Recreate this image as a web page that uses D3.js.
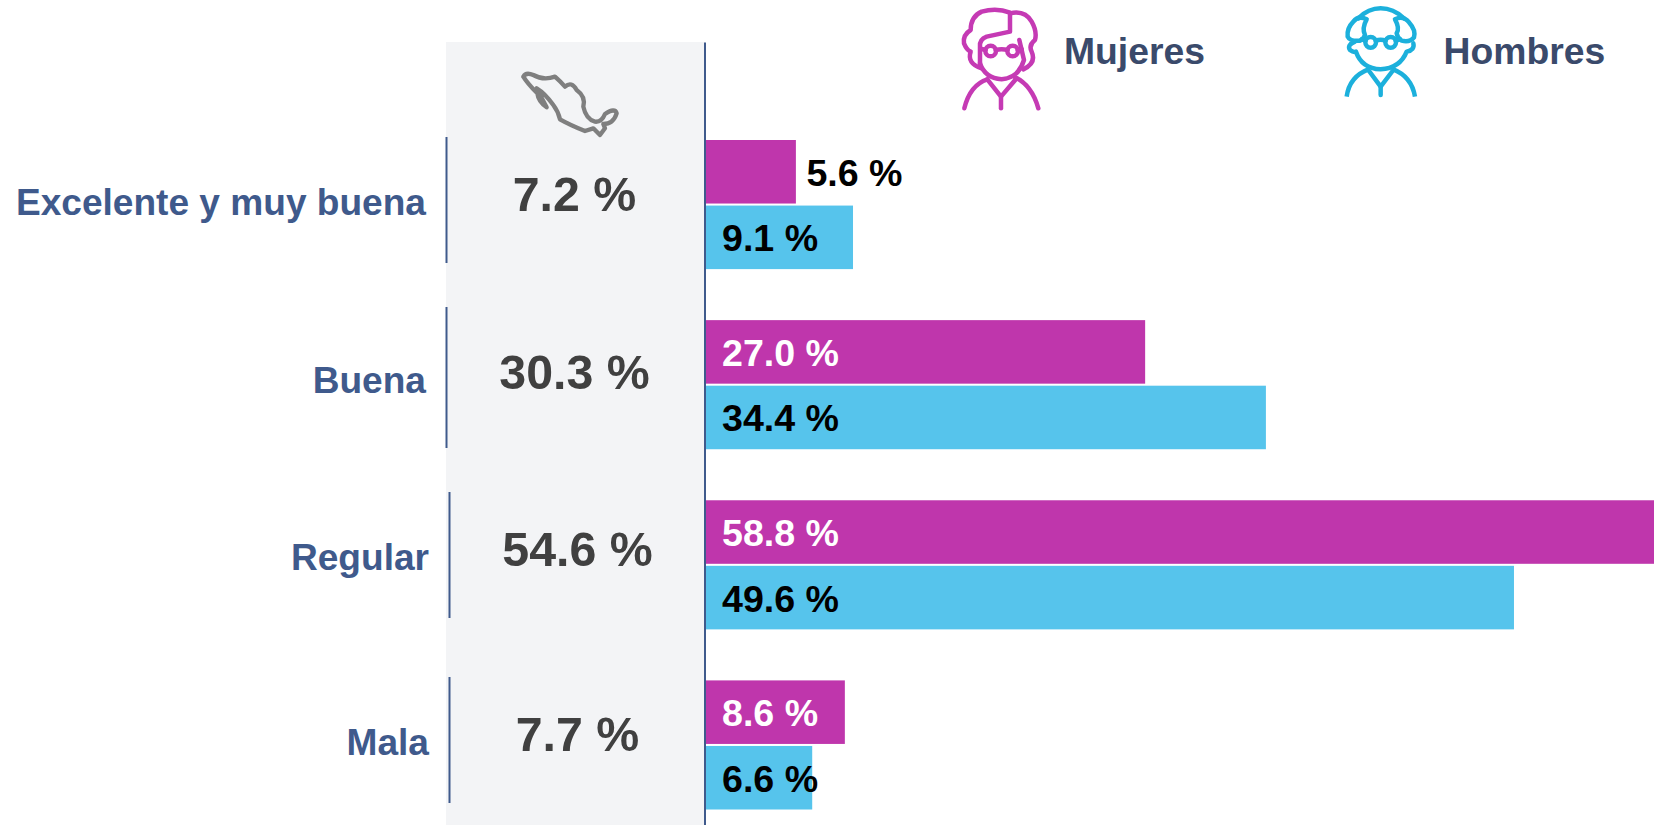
<!DOCTYPE html>
<html><head><meta charset="utf-8">
<script src="https://cdn.jsdelivr.net/npm/d3@7/dist/d3.min.js"></script>
<style>html,body{margin:0;padding:0;background:#fff;overflow:hidden}svg{display:block}text{font-family:"Liberation Sans",Arial,sans-serif;font-weight:700}</style>
</head><body><svg id="c" width="1654" height="825"></svg>
<script>
const categories = ["Excelente y muy buena","Buena","Regular","Mala"];
const national = [7.2,30.3,54.6,7.7];
const mujeres = [5.6,27.0,58.8,8.6];
const hombres = [9.1,34.4,49.6,6.6];
const seriesNames = ["Mujeres","Hombres"];

const W=1654,H=825,x0=704.5;
const MAG="#bf36ac",CYA="#56c4ec",BLUE="#3f5a8c";
const svg=d3.select("#c");
const x=d3.scaleLinear().domain([0,1]).range([x0,x0+16.32]);
const y=d3.scaleBand().domain(categories).range([140,809.5]).paddingInner(51/180).paddingOuter(0);
const yi=d3.scaleBand().domain(seriesNames).range([0,y.bandwidth()]).paddingInner(2/64.5);
const fmt=d=>d.toFixed(1)+" %";

// panel
svg.append("rect").attr("x",446).attr("y",42).attr("width",x0-446).attr("height",H-42).attr("fill","#f3f4f6");

// bars
const rows=categories.map((c,i)=>({c,i,m:mujeres[i],h:hombres[i],n:national[i]}));
const g=svg.selectAll("g.row").data(rows).join("g").attr("class","row").attr("transform",d=>`translate(0,${y(d.c)})`);
[["Mujeres","m",MAG],["Hombres","h",CYA]].forEach(([s,k,col])=>{
  g.append("rect").attr("x",x(0)).attr("y",yi(s)).attr("width",d=>x(d[k])-x(0)).attr("height",yi.bandwidth()).attr("fill",col);
  g.append("text").attr("x",d=>k==="m"&&d.i===0?x(d[k])+10.5:x(0)+17.5)
    .attr("y",yi(s)+yi.bandwidth()/2+14).attr("font-size",37.6)
    .attr("fill",d=>k==="h"||d.i===0?"#000":"#fff").text(d=>fmt(d[k]));
});

// axis line
const axis=d3.axisLeft(d3.scaleLinear().range([42,H])).ticks(0).tickSize(0);
svg.append("g").attr("transform",`translate(${x0},0)`).call(axis).select("path").attr("stroke",BLUE).attr("stroke-width",2);

// category brackets and labels
const bracketLayout=[[446.5,137,263,426,215,211,574.5],[446.5,307,448,426,393,389,574.5],[449.5,492,618,429,570,566,577.5],[449.5,677,803,429,755,751,577.5]];
categories.forEach((c,i)=>{
  const [bx,y1,y2,lx,ly,cy,cx]=bracketLayout[i];
  svg.append("line").attr("x1",bx).attr("x2",bx).attr("y1",y1).attr("y2",y2).attr("stroke",BLUE).attr("stroke-width",2);
  svg.append("text").attr("x",lx).attr("y",ly).attr("text-anchor","end").attr("font-size",37.1).attr("fill",BLUE).text(c);
  svg.append("text").attr("x",cx).attr("y",cy).attr("text-anchor","middle").attr("font-size",48.3).attr("fill","#404040").text(fmt(national[i]));
});

// Mexico icon
svg.append("path").attr("transform","translate(430,30) scale(0.3333)").attr("fill","none").attr("stroke","#7f7f7f").attr("stroke-width",13).attr("stroke-linejoin","round").attr("stroke-linecap","round")
 .attr("d","M280,140 Q288,125 310,135 Q340,152 375,140 Q392,155 405,170 Q425,152 440,180 Q468,200 460,230 Q468,268 495,275 Q515,277 525,252 Q555,232 560,250 Q550,282 520,282 L525,295 L510,315 L490,295 L465,303 Q420,285 390,268 Q385,245 370,225 Q345,190 320,175 Q335,205 350,232 Q325,215 322,190 Q292,160 280,140");

// legend icons
const woman=svg.append("g").attr("transform","translate(900,0) scale(0.3333)").attr("fill","none").attr("stroke","#c53ab4").attr("stroke-width",13.5).attr("stroke-linecap","round").attr("stroke-linejoin","round");
["M330,38 Q290,22 245,35 Q212,50 212,90 Q188,105 192,130 Q200,150 212,155 Q200,190 245,205",
 "M330,40 Q375,30 395,65 Q412,95 405,120 Q385,135 395,155 Q410,190 370,208",
 "M330,40 L330,95 L260,110 Q238,118 240,140 L240,190",
 "M240,190 Q255,235 305,238 Q355,235 372,180 L358,120",
 "M193,325 Q210,255 262,238","M415,325 Q395,255 345,232",
 "M262,238 L303,290 L350,235","M303,290 L303,325",
 "M287,150 Q305,145 323,150","M257,150 L245,147","M353,150 L365,147"].forEach(d=>woman.append("path").attr("d",d));
[[272,153],[338,153]].forEach(p=>woman.append("circle").attr("cx",p[0]).attr("cy",p[1]).attr("r",16));

const man=svg.append("g").attr("transform","translate(1300,0) scale(0.3333)").attr("fill","none").attr("stroke","#1cb0dc").attr("stroke-width",13.5).attr("stroke-linecap","round").attr("stroke-linejoin","round");
["M175,55 Q205,25 242,25 Q280,25 312,55",
 "M200,58 Q175,45 160,65 Q140,85 143,110 Q150,125 180,122 Q190,118 195,105 Q185,85 200,58",
 "M285,58 Q310,45 328,68 Q348,90 342,112 Q330,128 305,122 Q293,115 290,100 Q300,85 285,58",
 "M165,125 Q140,135 150,150 Q160,158 168,155 Q185,205 242,208 Q300,205 320,155 Q345,150 340,130",
 "M205,210 L242,260 L280,210","M242,260 L242,285",
 "M227,122 Q242,116 257,122","M197,122 L185,118","M287,122 L300,118"].forEach(d=>man.append("path").attr("d",d));
["M140,290 Q148,230 205,208","M345,290 Q335,230 280,208"].forEach(d=>man.append("path").attr("d",d).attr("stroke-linecap","butt"));
[[212,127],[272,127]].forEach(p=>man.append("circle").attr("cx",p[0]).attr("cy",p[1]).attr("r",16));

// legend text
[[1064,seriesNames[0]],[1443.5,seriesNames[1]]].forEach(([lx,t])=>svg.append("text").attr("x",lx).attr("y",64).attr("font-size",37.3).attr("fill","#3a4a6b").text(t));
</script></body></html>
